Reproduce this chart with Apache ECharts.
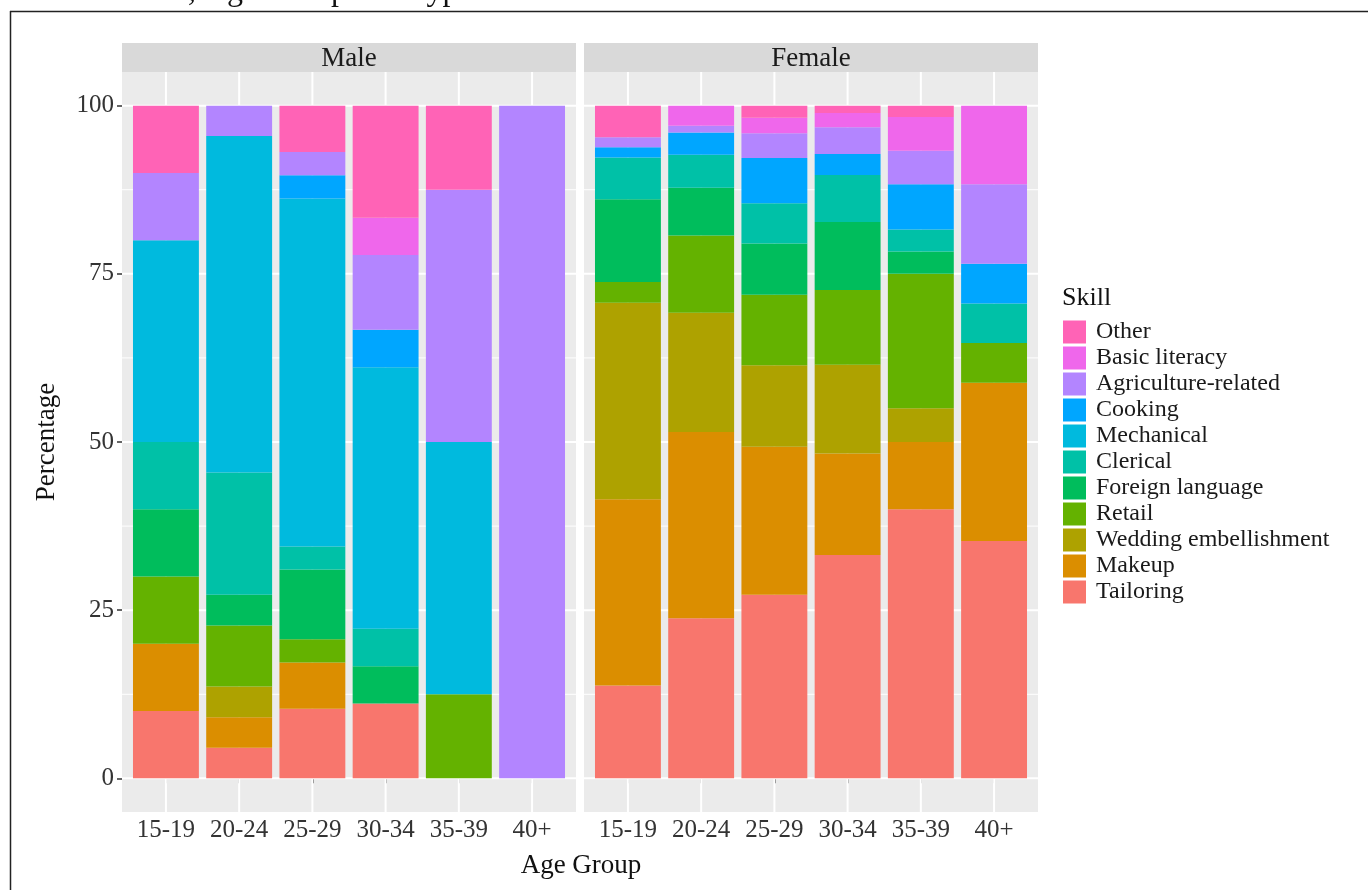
<!DOCTYPE html>
<html>
<head>
<meta charset="utf-8">
<script src="https://cdn.jsdelivr.net/npm/echarts@6/dist/echarts.min.js"></script>
<style>
html,body{margin:0;padding:0;background:#fff;}
#chart{width:1368px;height:890px;}
</style>
</head>
<body>
<div id="chart"></div>
<script>
// ---- data ----
const ages = ['15-19', '20-24', '25-29', '30-34', '35-39', '40+'];
const agePos = [1, 2, 3, 4, 5, 6];
const skills = ['Tailoring', 'Makeup', 'Wedding embellishment', 'Retail', 'Foreign language',
  'Clerical', 'Mechanical', 'Cooking', 'Agriculture-related', 'Basic literacy', 'Other'];
const yTicks = [0, 25, 50, 75, 100];
const yMinorTicks = [12.5, 37.5, 62.5, 87.5];
const panels = ['Male', 'Female'];

// Male, percentage per age group
const maleTailoring   = [10, 4.55, 10.34, 11.11, 0, 0];
const maleMakeup      = [10, 4.55, 6.9, 0, 0, 0];
const maleWedding     = [0, 4.55, 0, 0, 0, 0];
const maleRetail      = [10, 9.09, 3.45, 0, 12.5, 0];
const maleForeign     = [10, 4.55, 10.34, 5.56, 0, 0];
const maleClerical    = [10, 18.18, 3.45, 5.56, 0, 0];
const maleMechanical  = [30, 50, 51.72, 38.89, 37.5, 0];
const maleCooking     = [0, 0, 3.45, 5.56, 0, 0];
const maleAgriculture = [10, 4.53, 3.45, 11.11, 37.5, 100];
const maleLiteracy    = [0, 0, 0, 5.56, 0, 0];
const maleOther       = [10, 0, 6.9, 16.65, 12.5, 0];

// Female, percentage per age group
const femaleTailoring   = [13.8, 23.8, 27.3, 33.2, 40, 35.3];
const femaleMakeup      = [27.7, 27.7, 22.0, 15.1, 10, 23.5];
const femaleWedding     = [29.2, 17.7, 12.1, 13.2, 5, 0];
const femaleRetail      = [3.1, 11.5, 10.5, 11.1, 20, 5.9];
const femaleForeign     = [12.3, 7.1, 7.6, 10.1, 3.3, 0];
const femaleClerical    = [6.2, 4.9, 6.0, 7.0, 3.3, 5.9];
const femaleMechanical  = [0, 0, 0, 0, 0, 0];
const femaleCooking     = [1.5, 3.3, 6.7, 3.1, 6.7, 5.9];
const femaleAgriculture = [1.5, 1.0, 3.7, 4.0, 5, 11.8];
const femaleLiteracy    = [0, 3.0, 2.3, 2.1, 5, 11.7];
const femaleOther       = [4.7, 0, 1.8, 1.1, 1.7, 0];

const maleValues = [maleTailoring, maleMakeup, maleWedding, maleRetail, maleForeign, maleClerical,
  maleMechanical, maleCooking, maleAgriculture, maleLiteracy, maleOther];
const femaleValues = [femaleTailoring, femaleMakeup, femaleWedding, femaleRetail, femaleForeign, femaleClerical,
  femaleMechanical, femaleCooking, femaleAgriculture, femaleLiteracy, femaleOther];

// ---- styles ----
const colors = ['#F8766D', '#DB8E00', '#AEA200', '#64B200', '#00BD5C', '#00C1A7',
  '#00BADE', '#00A6FF', '#B385FF', '#EF67EB', '#FF63B6'];
const FONT = '"Liberation Serif", "Times New Roman", serif';
const panelLeft = [122, 584];
const panelTop = 72, panelW = 454, panelH = 740;
const stripTop = 43, stripH = 29;
const unitPx = panelW / 6.2;   // ggplot discrete expansion of 0.6 on each side

const chart = echarts.init(document.getElementById('chart'), null, { renderer: 'canvas' });

const grids = [], xAxes = [], yAxes = [], series = [];
// panel grids (0,1): background, gridlines, ticks, labels
panels.forEach((p, g) => {
  grids.push({
    left: panelLeft[g], top: panelTop, width: panelW, height: panelH,
    show: true, backgroundColor: '#EBEBEB', borderWidth: 0, containLabel: false, z: 0
  });
  xAxes.push({
    type: 'value', gridIndex: g, min: 0.4, max: 6.6,
    splitLine: { show: false }, axisLine: { show: false },
    axisTick: { show: true, customValues: agePos, length: 5, lineStyle: { color: '#333333', width: 1.5 } },
    axisLabel: {
      customValues: agePos, margin: 6, fontSize: 25, fontFamily: FONT, color: '#333333',
      formatter: v => ages[Math.round(v) - 1] || ''
    }
  });
  yAxes.push({
    type: 'value', gridIndex: g, min: -5, max: 105,
    splitLine: { show: false }, axisLine: { show: false },
    axisTick: { show: g === 0, customValues: yTicks, length: 5, lineStyle: { color: '#333333', width: 1.5 } },
    axisLabel: { show: g === 0, customValues: yTicks, margin: 8, fontSize: 25, fontFamily: FONT, color: '#333333' }
  });
  const hLine = (vals, w) => ({
    type: 'custom', xAxisIndex: g, yAxisIndex: g, z: 1, silent: true,
    data: vals.map(v => [agePos[0], v]),
    renderItem: (params, api) => {
      const cs = params.coordSys;
      const y = api.coord([agePos[0], api.value(1)])[1];
      return { type: 'line', shape: { x1: cs.x, y1: y, x2: cs.x + cs.width, y2: y },
        style: { stroke: '#FFFFFF', lineWidth: w } };
    }
  });
  series.push(hLine(yMinorTicks, 1));
  series.push(hLine(yTicks, 2));
  series.push({
    type: 'custom', xAxisIndex: g, yAxisIndex: g, z: 1, silent: true,
    data: agePos.map(v => [v, 50]),
    renderItem: (params, api) => {
      const cs = params.coordSys;
      const x = api.coord([api.value(0), 50])[0];
      return { type: 'line', shape: { x1: x, y1: cs.y, x2: x, y2: cs.y + cs.height },
        style: { stroke: '#FFFFFF', lineWidth: 2 } };
    }
  });
});
// bar grids (2,3): inner band region, category axis, hidden axes
panels.forEach((p, g) => {
  const gi = g + 2;
  grids.push({
    left: panelLeft[g] + unitPx * 0.1, top: panelTop, width: unitPx * 6, height: panelH,
    show: false, containLabel: false
  });
  xAxes.push({
    type: 'category', gridIndex: gi, data: ages, boundaryGap: true,
    axisLine: { show: false }, axisTick: { show: false }, axisLabel: { show: false }, splitLine: { show: false }
  });
  yAxes.push({
    type: 'value', gridIndex: gi, min: -5, max: 105,
    axisLine: { show: false }, axisTick: { show: false }, axisLabel: { show: false }, splitLine: { show: false }
  });
  const vals = g === 0 ? maleValues : femaleValues;
  skills.forEach((s, i) => {
    series.push({
      type: 'bar', name: s, xAxisIndex: gi, yAxisIndex: gi, stack: 'panel' + g, z: 2,
      barWidth: '90%', itemStyle: { color: colors[i] },
      data: vals[i]
    });
  });
});

const graphics = [
  { type: 'text', x: 140, y: -8, style: { text: 'Sex, Age Group and Type of Skill', font: '32px ' + FONT, fill: '#111', textAlign: 'left', align: 'left', textVerticalAlign: 'middle', verticalAlign: 'middle' } },
  { type: 'line', shape: { x1: 10, y1: 11.5, x2: 1368, y2: 11.5 }, style: { stroke: '#222', lineWidth: 1.5 } },
  { type: 'line', shape: { x1: 10.5, y1: 11, x2: 10.5, y2: 890 }, style: { stroke: '#222', lineWidth: 1.5 } },
  { type: 'text', x: 47, y: 442, rotation: Math.PI / 2, style: { text: 'Percentage', font: '27px ' + FONT, fill: '#111', textAlign: 'center', align: 'center', textVerticalAlign: 'middle', verticalAlign: 'middle' } },
  { type: 'text', x: 581, y: 866, style: { text: 'Age Group', font: '27px ' + FONT, fill: '#111', textAlign: 'center', align: 'center', textVerticalAlign: 'middle', verticalAlign: 'middle' } },
  { type: 'text', x: 1062, y: 298, style: { text: 'Skill', font: '26px ' + FONT, fill: '#111', textAlign: 'left', align: 'left', textVerticalAlign: 'middle', verticalAlign: 'middle' } }
];
panels.forEach((p, g) => {
  graphics.push({ type: 'rect', shape: { x: panelLeft[g], y: stripTop, width: panelW, height: stripH }, style: { fill: '#D9D9D9' } });
  graphics.push({ type: 'text', x: panelLeft[g] + panelW / 2, y: stripTop + stripH / 2 + 1, style: { text: p, font: '27px ' + FONT, fill: '#1A1A1A', textAlign: 'center', align: 'center', textVerticalAlign: 'middle', verticalAlign: 'middle' } });
});

chart.setOption({
  animation: false,
  backgroundColor: '#FFFFFF',
  grid: grids,
  xAxis: xAxes,
  yAxis: yAxes,
  legend: {
    data: skills.slice().reverse(),
    orient: 'vertical', left: 1063, top: 320, padding: 0,
    itemWidth: 23, itemHeight: 23, itemGap: 2, icon: 'rect',
    selectedMode: false,
    textStyle: { fontSize: 24, fontFamily: FONT, color: '#1A1A1A', padding: [0, 0, 0, 5], lineHeight: 23 }
  },
  graphic: graphics,
  series: series
});
</script>
</body>
</html>
